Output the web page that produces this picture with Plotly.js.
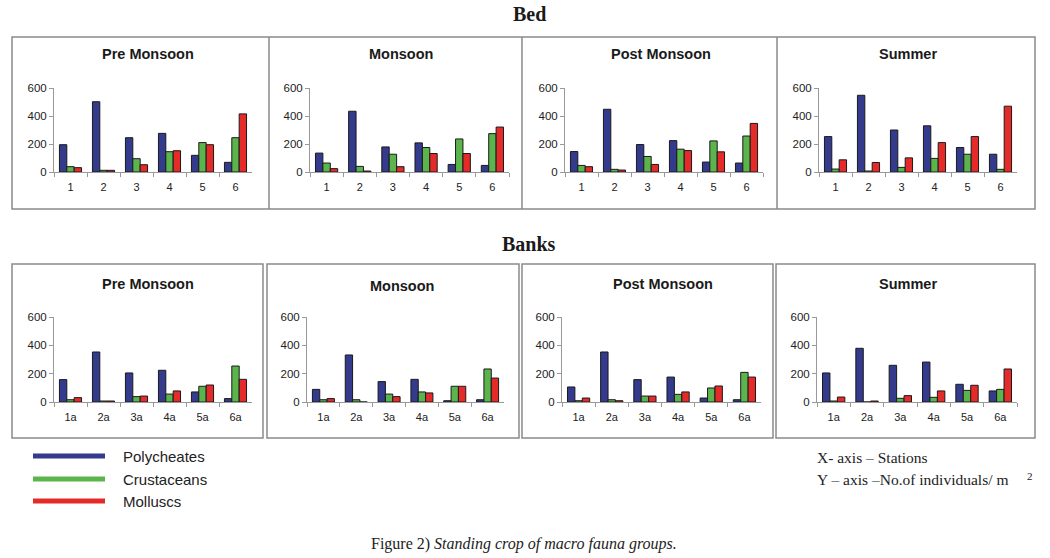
<!DOCTYPE html>
<html>
<head>
<meta charset="utf-8">
<script src="https://cdn.plot.ly/plotly-3.0.1.min.js"></script>
<style>
  html, body { margin: 0; padding: 0; background: #fff; }
  #chart { width: 1050px; height: 558px; }
</style>
</head>
<body>
<div id="chart"></div>
<script>
// ---- data ----
const stationsBed = ['1', '2', '3', '4', '5', '6'];
const stationsBanks = ['1a', '2a', '3a', '4a', '5a', '6a'];
const seasons = ['Pre Monsoon', 'Monsoon', 'Post Monsoon', 'Summer'];
const groups = ['Polycheates', 'Crustaceans', 'Molluscs'];

const bedPrePoly  = [195, 502, 245, 276, 119, 69];
const bedPreCrus  = [38, 12, 95, 145, 210, 245];
const bedPreMoll  = [31, 12, 52, 152, 195, 415];
const bedMonPoly  = [135, 434, 179, 208, 54, 47];
const bedMonCrus  = [64, 40, 127, 175, 236, 274];
const bedMonMoll  = [24, 7, 38, 132, 132, 321];
const bedPostPoly = [146, 448, 196, 224, 71, 64];
const bedPostCrus = [47, 19, 111, 163, 222, 257];
const bedPostMoll = [38, 14, 54, 153, 144, 347];
const bedSumPoly  = [253, 548, 300, 330, 175, 127];
const bedSumCrus  = [21, 7, 33, 97, 127, 19];
const bedSumMoll  = [87, 68, 101, 210, 253, 470];

const bankPrePoly  = [158, 353, 205, 224, 71, 24];
const bankPreCrus  = [16, 7, 38, 56, 111, 254];
const bankPreMoll  = [31, 7, 42, 78, 120, 160];
const bankMonPoly  = [89, 332, 144, 160, 9, 16];
const bankMonCrus  = [16, 16, 56, 71, 111, 233];
const bankMonMoll  = [24, 0, 38, 64, 111, 169];
const bankPostPoly = [106, 353, 158, 176, 28, 16];
const bankPostCrus = [9, 16, 42, 54, 99, 209];
const bankPostMoll = [28, 9, 42, 71, 113, 176];
const bankSumPoly  = [205, 379, 259, 282, 125, 78];
const bankSumCrus  = [7, 0, 26, 33, 82, 89];
const bankSumMoll  = [35, 7, 45, 78, 118, 233];

const yTicks = [0, 200, 400, 600];

// ---- styling / layout ----
const W = 1050, H = 558;
const colors = ['#343a8c', '#5cb54c', '#e52a2a'];
const px = v => v / W;
const py = v => 1 - v / H;

const panels = [
  {cats: stationsBed, series: [bedPrePoly, bedPreCrus, bedPreMoll], xd: [54, 252], y0: 172, y1: 88, tx: 148, ty: 54},
  {cats: stationsBed, series: [bedMonPoly, bedMonCrus, bedMonMoll], xd: [310, 509], y0: 172, y1: 88, tx: 401, ty: 54},
  {cats: stationsBed, series: [bedPostPoly, bedPostCrus, bedPostMoll], xd: [565, 763], y0: 172, y1: 88, tx: 661, ty: 54},
  {cats: stationsBed, series: [bedSumPoly, bedSumCrus, bedSumMoll], xd: [819, 1017], y0: 172, y1: 88, tx: 908, ty: 54},
  {cats: stationsBanks, series: [bankPrePoly, bankPreCrus, bankPreMoll], xd: [54, 252], y0: 402, y1: 317, tx: 148, ty: 284},
  {cats: stationsBanks, series: [bankMonPoly, bankMonCrus, bankMonMoll], xd: [307, 504], y0: 402, y1: 317, tx: 402, ty: 286},
  {cats: stationsBanks, series: [bankPostPoly, bankPostCrus, bankPostMoll], xd: [562, 761], y0: 402, y1: 317, tx: 663, ty: 284},
  {cats: stationsBanks, series: [bankSumPoly, bankSumCrus, bankSumMoll], xd: [817, 1017], y0: 402, y1: 317, tx: 908, ty: 284}
];

const data = [];
const layout = {
  width: W, height: H,
  margin: {l: 0, r: 0, t: 0, b: 0},
  paper_bgcolor: '#fff', plot_bgcolor: 'rgba(0,0,0,0)',
  showlegend: false,
  barmode: 'group', bargap: 0.33, bargroupgap: 0,
  font: {family: 'Liberation Sans, Arial, sans-serif', color: '#222', size: 11},
  shapes: [], annotations: []
};

panels.forEach((p, i) => {
  const n = i + 1;
  const xa = n === 1 ? 'x' : 'x' + n;
  const ya = n === 1 ? 'y' : 'y' + n;
  p.series.forEach((vals, k) => {
    data.push({
      type: 'bar', x: p.cats, y: vals, name: groups[k],
      xaxis: xa, yaxis: ya,
      marker: {color: colors[k], line: {color: '#1a1a1a', width: 1}},
      hoverinfo: 'skip'
    });
  });
  layout['xaxis' + (n === 1 ? '' : n)] = {
    domain: [px(p.xd[0]), px(p.xd[1])], anchor: ya,
    type: 'category', range: [-0.5, 5.5],
    showline: true, linecolor: '#999', linewidth: 1,
    ticks: 'outside', tickson: 'boundaries', ticklen: 4, tickcolor: '#999',
    showgrid: false, zeroline: false, fixedrange: true,
    tickfont: {size: 11, color: '#222'}, ticklabelstandoff: 5
  };
  layout['yaxis' + (n === 1 ? '' : n)] = {
    domain: [py(p.y0), py(p.y1)], anchor: xa,
    range: [0, 600], tickvals: yTicks,
    showline: true, linecolor: '#999', linewidth: 1,
    ticks: 'outside', ticklen: 4, tickcolor: '#999',
    showgrid: false, zeroline: false, fixedrange: true,
    tickfont: {size: 11.5, color: '#222'}
  };
  layout.annotations.push({
    xref: 'paper', yref: 'paper', x: px(p.tx), y: py(p.ty),
    xanchor: 'center', yanchor: 'middle', showarrow: false,
    text: '<b>' + seasons[i % 4] + '</b>',
    font: {family: 'Liberation Sans, Arial, sans-serif', size: 14.5, color: '#1a1a1a'}
  });
});

// panel boxes
const boxLine = {color: '#8a8a8a', width: 1.5};
const rect = (x0, x1, y0, y1) => ({type: 'rect', xref: 'paper', yref: 'paper',
  x0: px(x0), x1: px(x1), y0: py(y1), y1: py(y0), line: boxLine, fillcolor: 'rgba(0,0,0,0)', layer: 'below'});
const vline = (x, y0, y1) => ({type: 'line', xref: 'paper', yref: 'paper',
  x0: px(x), x1: px(x), y0: py(y1), y1: py(y0), line: boxLine});
layout.shapes.push(rect(12, 1035, 37, 209));
layout.shapes.push(vline(269, 37, 209), vline(522, 37, 209), vline(777, 37, 209));
layout.shapes.push(rect(12, 263, 264, 438), rect(267, 519, 264, 438), rect(522, 773, 264, 438), rect(776, 1035, 264, 438));

// section titles
[['Bed', 14], ['Banks', 244]].forEach(([t, y]) => {
  layout.annotations.push({
    xref: 'paper', yref: 'paper', x: px(529), y: py(y), xanchor: 'center', yanchor: 'middle',
    showarrow: false, text: '<b>' + t + '</b>',
    font: {family: 'Liberation Serif, Times New Roman, serif', size: 20, color: '#1a1a1a'}
  });
});

// legend
const legY = [456, 479, 501];
groups.forEach((g, k) => {
  layout.shapes.push({type: 'line', xref: 'paper', yref: 'paper',
    x0: px(33), x1: px(105), y0: py(legY[k]), y1: py(legY[k]),
    line: {color: colors[k], width: 5}});
  layout.annotations.push({
    xref: 'paper', yref: 'paper', x: px(121), y: py(legY[k]), xanchor: 'left', yanchor: 'middle',
    showarrow: false, text: g,
    font: {family: 'Liberation Sans, Arial, sans-serif', size: 15, color: '#222'}
  });
});

// axis notes
layout.annotations.push({
  xref: 'paper', yref: 'paper', x: px(815), y: py(457), xanchor: 'left', yanchor: 'middle',
  showarrow: false, text: 'X- axis \u2013 Stations',
  font: {family: 'Liberation Serif, Times New Roman, serif', size: 15.5, color: '#222'}
});
layout.annotations.push({
  xref: 'paper', yref: 'paper', x: px(815), y: py(479), xanchor: 'left', yanchor: 'middle',
  showarrow: false, text: 'Y \u2013 axis \u2013No.of individuals/ m',
  font: {family: 'Liberation Serif, Times New Roman, serif', size: 15.5, color: '#222'}
});
layout.annotations.push({
  xref: 'paper', yref: 'paper', x: px(1025), y: py(476), xanchor: 'left', yanchor: 'middle',
  showarrow: false, text: '2',
  font: {family: 'Liberation Serif, Times New Roman, serif', size: 11, color: '#222'}
});

// caption
layout.annotations.push({
  xref: 'paper', yref: 'paper', x: px(524), y: py(544), xanchor: 'center', yanchor: 'middle',
  showarrow: false, text: 'Figure 2) <i>Standing crop of macro fauna groups.</i>',
  font: {family: 'Liberation Serif, Times New Roman, serif', size: 16, color: '#222'}
});

Plotly.newPlot('chart', data, layout, {staticPlot: true, displayModeBar: false});
</script>
</body>
</html>
